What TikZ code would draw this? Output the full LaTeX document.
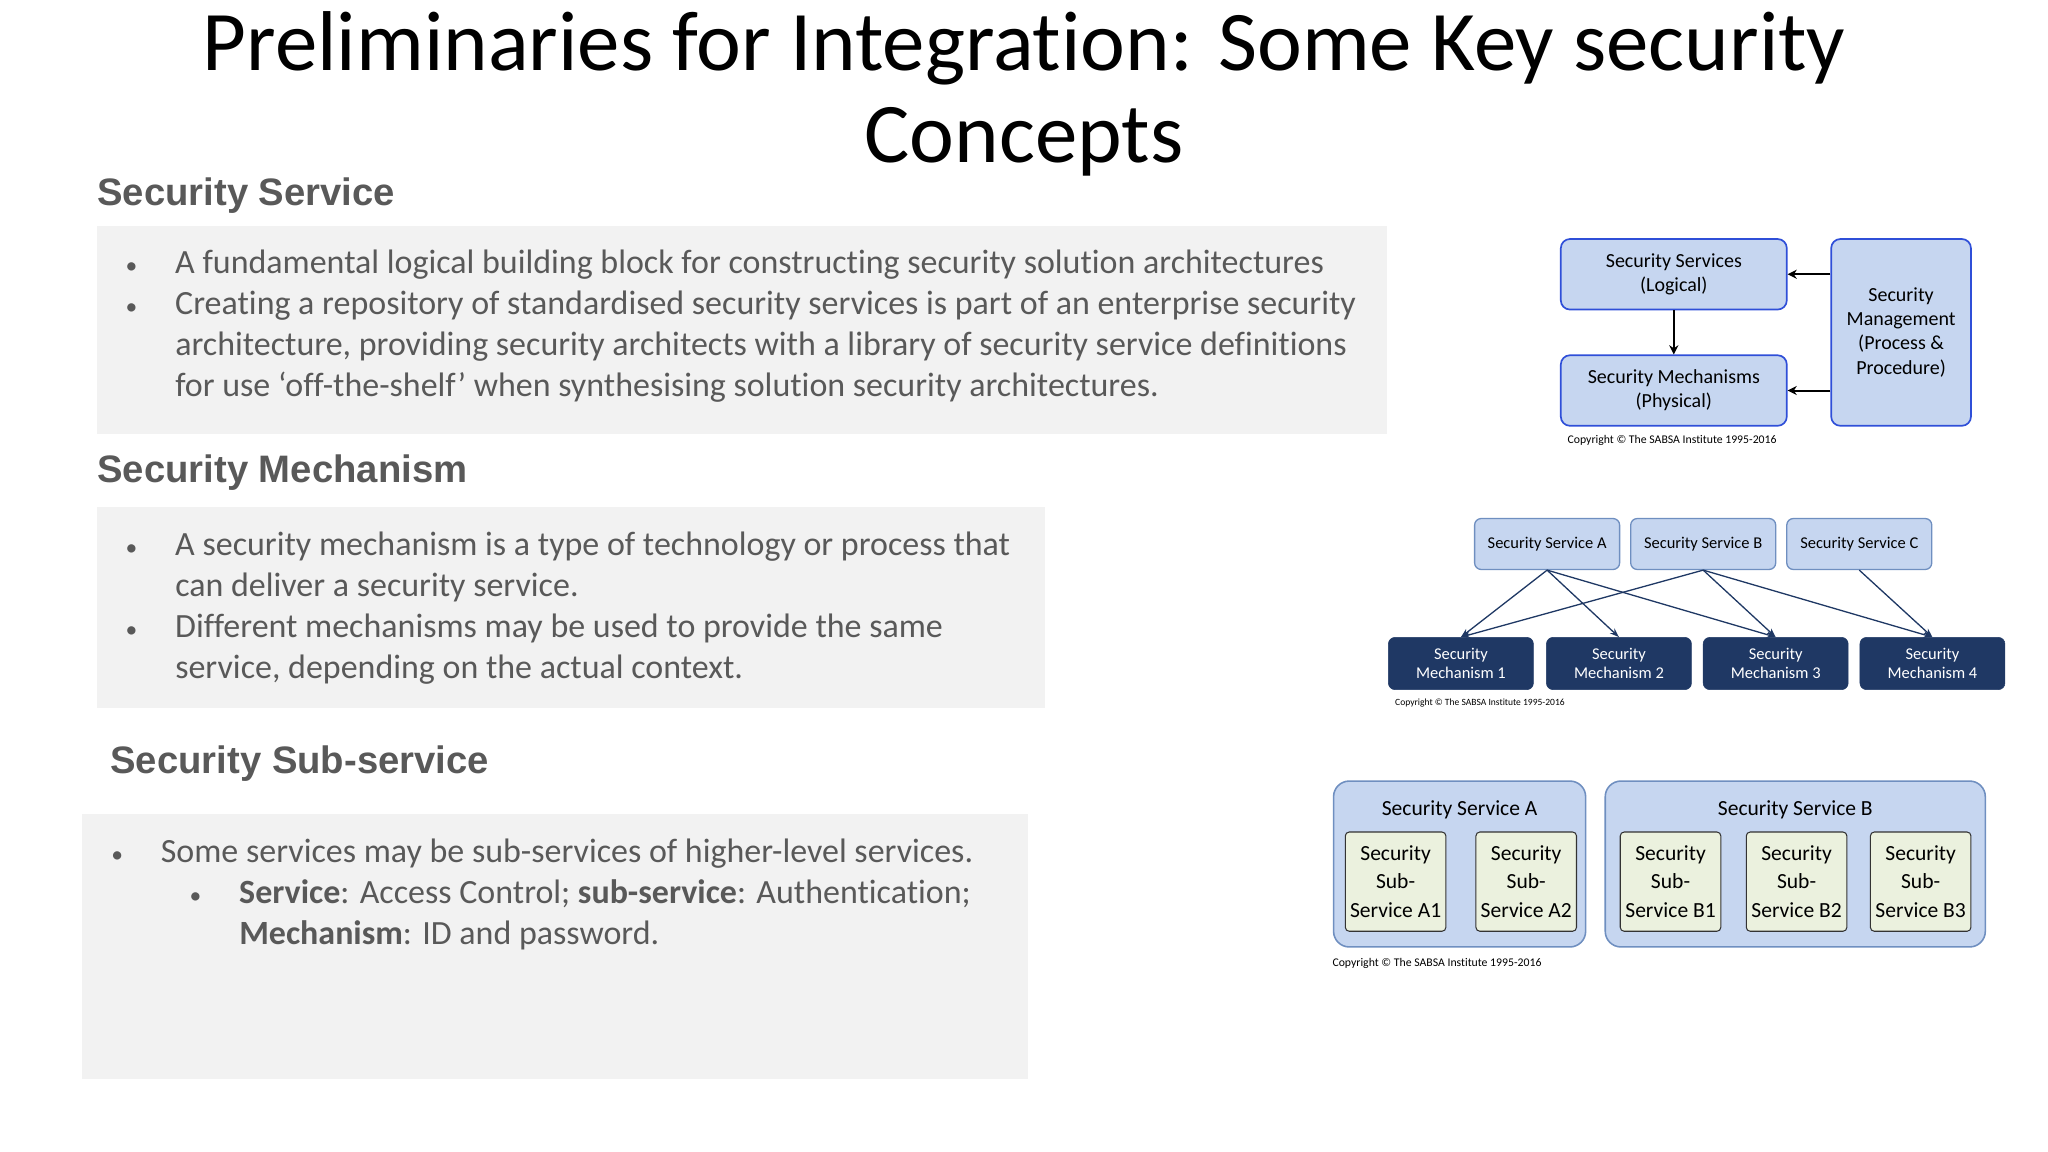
\documentclass[tikz,border=0pt]{standalone}
\usepackage{fontspec}
\setmainfont{Carlito}[Ligatures={NoCommon,NoRequired,NoContextual}]
\newfontfamily\hfont{Liberation Sans}
\usetikzlibrary{arrows.meta}
\definecolor{txt}{HTML}{595959}
\definecolor{panel}{HTML}{F2F2F2}
\definecolor{lb}{HTML}{C6D6F0}
\definecolor{bb}{HTML}{2F4FD8}
\definecolor{gb}{HTML}{6F8FC0}
\definecolor{navy}{HTML}{1F3864}
\definecolor{lg}{HTML}{EBF1DE}
\newcommand{\bul}{{\fontsize{18}{18}\selectfont\textbullet}}
\tikzset{
 head/.style={anchor=west,font=\hfont\bfseries\fontsize{29.3}{32}\selectfont,text=txt},
 body/.style={anchor=north west,align=left,font=\fontsize{26}{31.5}\selectfont,text=txt,inner sep=0},
 b1/.style={draw=bb,line width=1.3pt,fill=lb,rounded corners=7pt,align=center,font=\fontsize{15.3}{18.5}\selectfont,inner sep=0},
 b2/.style={draw=gb,line width=1pt,fill=lb,rounded corners=5pt,align=center,font=\fontsize{12.6}{15}\selectfont,inner sep=0,minimum width=111pt,minimum height=39pt},
 b3/.style={draw=navy,fill=navy,rounded corners=5pt,align=center,text=white,font=\fontsize{12.6}{15}\selectfont,inner sep=0,minimum width=111pt,minimum height=40pt},
 outer/.style={draw=gb,line width=1.2pt,fill=lb,rounded corners=12pt},
 inner/.style={draw=black!80,line width=0.8pt,fill=lg,rounded corners=3pt,align=center,font=\fontsize{16.5}{21.5}\selectfont,inner sep=0,minimum width=77pt,minimum height=76pt},
 copy/.style={anchor=west,font=\fontsize{9}{10}\selectfont,inner sep=0},
 blk/.style={-{Stealth[length=7pt,width=7pt]},line width=1.5pt},
 nav/.style={-{Stealth[length=7pt,width=5pt,open]},draw=navy,line width=1pt}
}
\begin{document}
\begin{tikzpicture}[x=1pt,y=-1pt]
\useasboundingbox (0,0) rectangle (1568,882);
\node[font=\fontsize{65}{70}\selectfont,align=center] (title) at (784,72) {Preliminaries for Integration: Some Key security\\Concepts};
% panels
\fill[panel] (74,173) rectangle (1062,332);
\fill[panel] (74,388) rectangle (800,542);
\fill[panel] (63,623) rectangle (787,826);
\node[head] (h1) at (71,150) {Security Service};
\node[head] (h2) at (71,362) {Security Mechanism};
\node[head] (h3) at (81,585) {Security Sub-service};
\node[body] (t1) at (96,191) {\bul\hspace{29pt}A fundamental logical building block for constructing security solution architectures\\
\bul\hspace{29pt}Creating a repository of standardised security services is part of an enterprise security\\
\hspace{38pt}architecture, providing security architects with a library of security service definitions\\
\hspace{38pt}for use ‘off-the-shelf’ when synthesising solution security architectures.};
\node[body] (t2) at (96,407) {\bul\hspace{29pt}A security mechanism is a type of technology or process that\\
\hspace{38pt}can deliver a security service.\\
\bul\hspace{29pt}Different mechanisms may be used to provide the same\\
\hspace{38pt}service, depending on the actual context.};
\node[body] (t3) at (85,642) {\bul\hspace{29pt}Some services may be sub-services of higher-level services.\\
\hspace{60pt}\bul\hspace{29pt}\textbf{Service}: Access Control; \textbf{sub-service}: Authentication;\\
\hspace{98pt}\textbf{Mechanism}: ID and password.};
% diagram 1
\node[b1,minimum width=173pt,minimum height=54pt] (ss) at (1281.5,210) {Security Services\\(Logical)};
\node[b1,minimum width=173pt,minimum height=54pt] (sm) at (1281.5,299) {Security Mechanisms\\(Physical)};
\node[b1,minimum width=107pt,minimum height=143pt] (mg) at (1455.5,254.5) {Security\\Management\\(Process \&\\Procedure)};
\draw[blk] (ss) -- (sm);
\draw[blk] (mg.west |- ss.east) -- (ss.east);
\draw[blk] (mg.west |- sm.east) -- (sm.east);
\node[copy] (c1) at (1200,337) {Copyright © The SABSA Institute 1995-2016};
% diagram 2
\node[b2] (sa) at (1184.5,416.5) {Security Service A};
\node[b2] (sb) at (1304,416.5) {Security Service B};
\node[b2] (sc) at (1423.5,416.5) {Security Service C};
\node[b3] (m1) at (1118.5,508) {Security\\Mechanism 1};
\node[b3] (m2) at (1239.5,508) {Security\\Mechanism 2};
\node[b3] (m3) at (1359.5,508) {Security\\Mechanism 3};
\node[b3] (m4) at (1479.5,508) {Security\\Mechanism 4};
\draw[nav] (sa.south) -- (m1.north);
\draw[nav] (sa.south) -- (m2.north);
\draw[nav] (sa.south) -- (m3.north);
\draw[nav] (sb.south) -- (m1.north);
\draw[nav] (sb.south) -- (m3.north);
\draw[nav] (sb.south) -- (m4.north);
\draw[nav] (sc.south) -- (m4.north);
\node[copy,font=\fontsize{7.3}{8}\selectfont] (c2) at (1068,538) {Copyright © The SABSA Institute 1995-2016};
% diagram 3
\draw[outer] (1021,598) rectangle (1214,725);
\draw[outer] (1229,598) rectangle (1520,725);
\node[font=\fontsize{16.5}{19}\selectfont] (oa) at (1117.5,620) {Security Service A};
\node[font=\fontsize{16.5}{19}\selectfont] (ob) at (1374.5,620) {Security Service B};
\node[inner] (a1) at (1068.5,675) {Security\\Sub-\\Service A1};
\node[inner] (a2) at (1168.5,675) {Security\\Sub-\\Service A2};
\node[inner] (bb1) at (1279,675) {Security\\Sub-\\Service B1};
\node[inner] (bb2) at (1375.5,675) {Security\\Sub-\\Service B2};
\node[inner] (bb3) at (1470.5,675) {Security\\Sub-\\Service B3};
\node[copy] (c3) at (1020,738) {Copyright © The SABSA Institute 1995-2016};
\end{tikzpicture}
\end{document}
